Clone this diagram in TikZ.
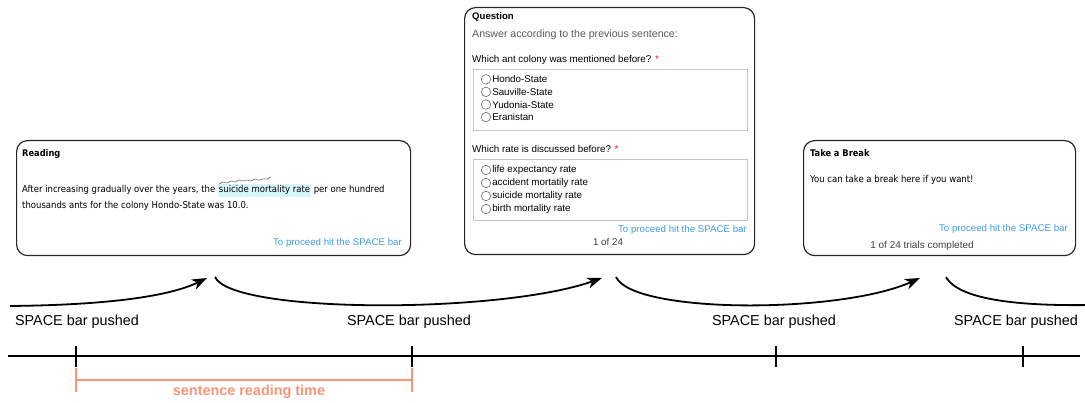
\documentclass[tikz,border=0pt]{standalone}
\usepackage{fontspec}
\setmainfont{Liberation Sans}
\newfontfamily\webfont{DejaVu Sans Condensed}
\usepackage{tikz}
\usetikzlibrary{arrows.meta,positioning}
\definecolor{LinkBlue}{HTML}{3E9CEA}
\definecolor{ReadOrange}{HTML}{F99577}
\definecolor{MarkCyan}{HTML}{D8F7FB}
\definecolor{FrameGray}{HTML}{C4C4C4}
\definecolor{HintGray}{HTML}{5A5A5A}
\definecolor{RadioGray}{HTML}{6E6E6E}
\newcommand{\hlrate}[1]{{\setlength{\fboxsep}{1pt}\colorbox{MarkCyan}{\strut #1}}}

\begin{document}
\begin{tikzpicture}[x=1pt, y=-1pt,
    screen/.style={draw=black!85, line width=1.2pt, rounded corners=11pt, anchor=north west, inner sep=0pt},
    panel/.style={draw=FrameGray, line width=0.9pt, anchor=north west, inner sep=0pt},
    txt/.style={anchor=mid west, inner sep=0pt, font=\fontsize{9.8}{11}\selectfont},
    webtxt/.style={anchor=mid west, inner sep=0pt, font=\webfont\fontsize{9.45}{11}\selectfont},
    heading/.style={anchor=mid west, inner sep=0pt, font=\bfseries\fontsize{9.6}{11}\selectfont},
    link/.style={anchor=mid east, inner sep=0pt, text=LinkBlue, font=\fontsize{9.7}{11}\selectfont},
    radio/.style={circle, draw=RadioGray, line width=0.6pt, minimum size=9.5pt, inner sep=0pt},
    push/.style={line width=1.8pt, -{Stealth[length=15pt,width=11pt,inset=4.5pt]}},
    event/.style={inner sep=0pt, font=\fontsize{14.4}{16}\selectfont},
    timetick/.style={line width=1.8pt}
  ]
    \useasboundingbox (0,0) rectangle (1085,403);

    % reading screen
    \node[screen, minimum width=394pt, minimum height=115pt] (reading) at (16,140) {};
    \node[heading, font=\webfont\bfseries\fontsize{9.2}{11}\selectfont] (readtitle) at (22,154) {Reading};
    \node[webtxt] (sentence1) at (22,190) {After increasing gradually over the years, the \hlrate{suicide mortality rate} per one hundred};
    \node[webtxt] (sentence2) at (22,206) {thousands ants for the colony Hondo-State was 10.0.};
    \draw[gray, line width=0.7pt] plot coordinates {(219,184) (223,182) (227,183) (231,181) (235,182) (239,180) (243,181) (247,180) (251,181) (255,179) (259,180) (263,179) (267,179) (271,177)};
    \node[link] (readlink) at (402,243) {To proceed hit the SPACE bar};

    % question screen
    \node[screen, minimum width=290pt, minimum height=247pt] (question) at (464,7) {};
    \node[heading] (qtitle) at (472,17) {Question};
    \node[txt, text=HintGray, font=\fontsize{10.6}{12}\selectfont] (qhint) at (472,35) {Answer according to the previous sentence:};
    \node[txt] (colonyq) at (472,60) {Which ant colony was mentioned before? \textcolor{red}{*}};
    \node[panel, minimum width=274pt, minimum height=61pt] (colonypanel) at (473,69) {};
    \foreach \opt [count=\i] in {Hondo-State, Sauville-State, Yudonia-State, Eranistan} {
      \node[radio] (colony\i) at (486,{66.7+12.6*\i}) {};
      \node[txt, right=1pt of colony\i] {\opt};
    }
    \node[txt] (rateq) at (472,150) {Which rate is discussed before? \textcolor{red}{*}};
    \node[panel, minimum width=274pt, minimum height=61pt] (ratepanel) at (473,159) {};
    \foreach \opt [count=\i] in {life expectancy rate, accident mortatily rate, suicide mortality rate, birth mortality rate} {
      \node[radio] (rate\i) at (486,{157+13*\i}) {};
      \node[txt, right=1pt of rate\i] {\opt};
    }
    \node[link] (qlink) at (747,230) {To proceed hit the SPACE bar};
    \node[txt, anchor=mid, text=black!75] (qcount) at (608,243) {1 of 24};

    % break screen
    \node[screen, minimum width=272pt, minimum height=115pt] (pause) at (803,140) {};
    \node[heading, font=\webfont\bfseries\fontsize{9.2}{11}\selectfont] (pausetitle) at (810,154) {Take a Break};
    \node[webtxt] (pausetext) at (810,180) {You can take a break here if you want!};
    \node[link] (pauselink) at (1068,229) {To proceed hit the SPACE bar};
    \node[txt, anchor=mid, text=black!75, font=\fontsize{10}{11}\selectfont] (pausecount) at (922,246) {1 of 24 trials completed};

    % key presses
    \coordinate (lift0) at (10,306);
    \coordinate (hit1) at (207,278);
    \coordinate (lift1) at (215,277);
    \coordinate (hit2) at (602,278);
    \coordinate (lift2) at (616,277);
    \coordinate (hit3) at (920,278);
    \coordinate (lift3) at (946,277);
    \coordinate (fade) at (1092,305);
    \draw[push] (lift0) .. controls (110,305) and (170,296) .. (hit1);
    \draw[push] (lift1) .. controls (232,314) and (500,314) .. (hit2);
    \draw[push] (lift2) .. controls (633,314) and (840,314) .. (hit3);
    \draw[line width=1.8pt] (lift3) .. controls (960,302) and (1030,306) .. (fade);
    \node[event] (push1) at (77,322) {SPACE bar pushed};
    \node[event] (push2) at (409,322) {SPACE bar pushed};
    \node[event] (push3) at (774,322) {SPACE bar pushed};
    \node[event] (push4) at (1016,322) {SPACE bar pushed};

    % time line
    \coordinate (axisL) at (8,356);
    \coordinate (axisR) at (1080,356);
    \draw[line width=1.8pt] (axisL) -- (axisR);
    \foreach \x [count=\i] in {76,412,776,1023} {
      \coordinate (t\i) at (\x,356);
      \draw[timetick] (t\i) ++(0,-10) -- ++(0,21);
    }
    \draw[ReadOrange, line width=2.5pt] (t1) ++(0,12) -- ++(0,24) (t1) ++(0,24) -- (t2 |- 0,380) (t2) ++(0,12) -- ++(0,24);
    \node[inner sep=0pt, text=ReadOrange, font=\bfseries\fontsize{14.4}{16}\selectfont] (readtime) at (249,392) {sentence reading time};
  \end{tikzpicture}
\end{document}
